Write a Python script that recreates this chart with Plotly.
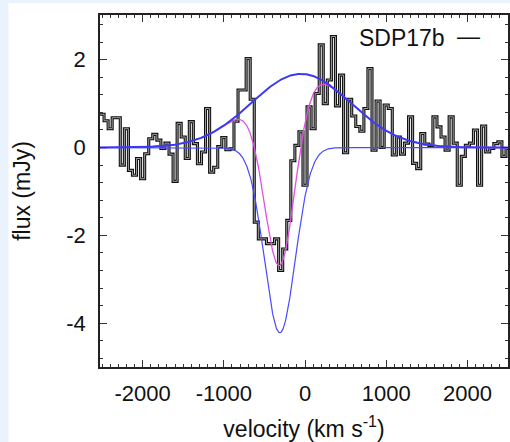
import numpy as np
import plotly.graph_objects as go

# ---- data ----
chan_width = 50  # km/s
velocity = [-2500 + 50 * k for k in range(101)]  # channel centres (km/s)
flux = [0.76, 0.61, 0.43, 0.68, 0.68, -0.40, 0.43, -0.52, -0.63, -0.25,
        -0.71, -0.14, 0.20, 0.30, 0.17, -0.02, 0.10, -0.15, -0.77, 0.55,
        0.24, -0.25, 0.59, 0.09, -0.37, -0.10, 0.89, -0.56, -0.45, 0.02,
        0.23, -0.05, -0.03, 0.60, 1.31, 1.31, 2.03, 1.10, -1.70, -2.08,
        -2.08, -2.19, -2.19, -2.08, -2.80, -2.31, -1.66, -0.30, 0.05, 0.36,
        -0.86, 0.93, 0.43, 1.23, 2.34, 1.00, 1.54, 2.53, 0.95, 1.65,
        -0.12, 1.10, 0.72, 0.48, 0.37, 0.89, 1.80, -0.06, 1.06, 0.00,
        0.97, 0.89, -0.17, 0.24, -0.15, 0.10, 0.70, -0.36, -0.48, 0.32,
        0.08, 0.05, 0.70, 0.47, 0.24, -0.06, 0.70, 0.10, -0.86, -0.20,
        0.05, 0.10, 0.40, -0.86, 0.49, -0.10, -0.02, 0.09, 0.13, -0.20,
        -0.02]
# Gaussian fit components: amplitude (mJy), centre (km/s), sigma (km/s)
emission_fit = (1.68, -50, 610)
absorption_fit = (-4.22, -310, 190)
label = "SDP17b"
x_tickvals = [-2000, -1000, 0, 1000, 2000]
x_ticktext = ["-2000", "-1000", "0", "1000", "2000"]
y_tickvals = [-4, -2, 0, 2]
y_ticktext = ["-4", "-2", "0", "2"]

# ---- build step outline ----
edges = [v - chan_width / 2 for v in velocity] + [velocity[-1] + chan_width / 2]
step_y = flux + [flux[-1]]

vgrid = np.linspace(-2525, 2525, 1201)
def gauss(p, x):
    a, m, s = p
    return a * np.exp(-(x - m) ** 2 / (2 * s ** 2))
g_em = gauss(emission_fit, vgrid)
g_ab = gauss(absorption_fit, vgrid)
g_tot = g_em + g_ab

fig = go.Figure()
fig.add_trace(go.Scatter(x=edges, y=step_y, mode="lines", line_shape="hv",
                         line=dict(color="#111111", width=3.1), hoverinfo="skip"))
fig.add_trace(go.Scatter(x=edges, y=step_y, mode="lines", line_shape="hv",
                         line=dict(color="#a0a0a0", width=1.0), hoverinfo="skip"))
fig.add_trace(go.Scatter(x=vgrid, y=g_tot, mode="lines",
                         line=dict(color="#e050e0", width=1.3)))
fig.add_trace(go.Scatter(x=vgrid, y=g_ab, mode="lines",
                         line=dict(color="#4a4aff", width=1.2)))
fig.add_trace(go.Scatter(x=vgrid, y=g_em, mode="lines",
                         line=dict(color="#3a3af5", width=2.0)))

font = "Liberation Sans, Arial, Helvetica, sans-serif"
axis_common = dict(
    showgrid=False, zeroline=False, showline=True, linecolor="#222222",
    linewidth=1.6, mirror="allticks", ticks="inside", tickcolor="#333333",
    tickwidth=1.3, ticklen=7, tickfont=dict(family=font, size=22, color="#111111"),
    tickmode="array",
)
fig.update_xaxes(**axis_common, range=[-2525, 2500],
                 tickvals=x_tickvals, ticktext=x_ticktext,
                 minor=dict(tickmode="linear", tick0=0, dtick=100, ticks="inside",
                            ticklen=3.5, tickwidth=1.1, tickcolor="#333333",
                            showgrid=False),
                 title=dict(text="velocity (km s<sup>-1</sup>)",
                            font=dict(family=font, size=23, color="#111111"),
                            standoff=16),
                 ticklabelstandoff=6)
fig.update_yaxes(**axis_common, range=[-5, 3.02],
                 tickvals=y_tickvals, ticktext=y_ticktext,
                 minor=dict(tickmode="linear", tick0=0, dtick=0.4, ticks="inside",
                            ticklen=3.5, tickwidth=1.1, tickcolor="#333333",
                            showgrid=False),
                 title=dict(text="flux (mJy)",
                            font=dict(family=font, size=23, color="#111111"),
                            standoff=29),
                 ticklabelstandoff=8)

fig.add_annotation(text=label, xref="paper", yref="paper", x=0.85, y=0.935,
                   xanchor="right", yanchor="middle", showarrow=False,
                   font=dict(family=font, size=23, color="#111111"))
fig.add_annotation(text="\u2014", xref="paper", yref="paper", x=0.87, y=0.94,
                   xanchor="left", yanchor="middle", showarrow=False,
                   font=dict(family=font, size=23, color="#111111"))

strip = "#eaf3fd"
fig.add_shape(type="rect", xref="paper", yref="paper", x0=-0.3, x1=1.05,
              y0=(367 - 3) / 352, y1=1.2, fillcolor=strip, line_width=0, layer="below")
fig.add_shape(type="rect", xref="paper", yref="paper", x0=-0.3, x1=(8 - 100) / 410,
              y0=-0.3, y1=1.2, fillcolor=strip, line_width=0, layer="below")

fig.update_layout(width=510, height=442, showlegend=False,
                  margin=dict(l=100, r=0, t=15, b=75),
                  paper_bgcolor="white", plot_bgcolor="rgba(0,0,0,0)")
fig.write_html("out.html")
